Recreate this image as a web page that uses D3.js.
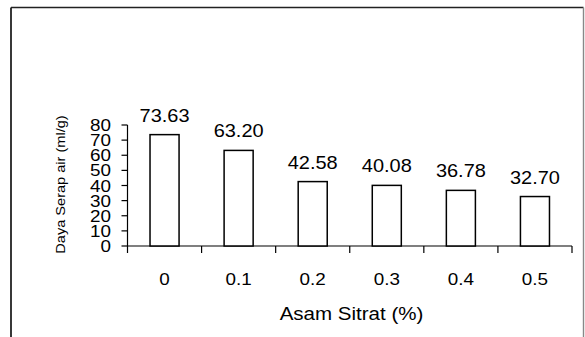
<!DOCTYPE html>
<html>
<head>
<meta charset="utf-8">
<script src="https://cdn.jsdelivr.net/npm/d3@7"></script>
<style>
  html, body { margin: 0; padding: 0; background: #fff; }
  svg { display: block; }
  text { font-family: "Liberation Sans", Arial, sans-serif; fill: #000; }
</style>
</head>
<body>
<script>
// Water absorption (ml/g) by citric acid concentration (%)
const categories = ["0", "0.1", "0.2", "0.3", "0.4", "0.5"];
const values = [73.63, 63.20, 42.58, 40.08, 36.78, 32.70];
const yTicks = [0, 10, 20, 30, 40, 50, 60, 70, 80];
const yTitle = "Daya Serap air  (ml/g)";
const xTitle = "Asam Sitrat (%)";

const W = 585, H = 337;
const SX = 1.11; // horizontal text stretch

const svg = d3.select("body").append("svg")
  .attr("width", W).attr("height", H);

// outer frame
svg.append("line").attr("x1", 11).attr("y1", 7.5).attr("x2", 583.5).attr("y2", 7.5)
  .attr("stroke", "#222").attr("stroke-width", 1.6);
svg.append("line").attr("x1", 11).attr("y1", 7.5).attr("x2", 11).attr("y2", H)
  .attr("stroke", "#222").attr("stroke-width", 1.8);
svg.append("line").attr("x1", 583.5).attr("y1", 7.5).attr("x2", 583.5).attr("y2", H)
  .attr("stroke", "#888").attr("stroke-width", 1.4);

const x = d3.scaleBand().domain(categories).range([127.5, 572])
  .paddingInner(0.608).paddingOuter(0.304);
const y = d3.scaleLinear().domain([0, 80]).range([246, 125]);

const axisColor = "#000";

// y axis line and ticks
svg.append("line").attr("x1", 127.5).attr("x2", 127.5)
  .attr("y1", y(80)).attr("y2", y(0) + 7)
  .attr("stroke", axisColor).attr("stroke-width", 1.2);
svg.selectAll(".ytick").data(yTicks).join("line")
  .attr("x1", 121.5).attr("x2", 127.5)
  .attr("y1", d => y(d)).attr("y2", d => y(d))
  .attr("stroke", axisColor).attr("stroke-width", 1.2);
svg.selectAll(".ylab").data(yTicks).join("text")
  .attr("text-anchor", "end")
  .attr("font-size", 17)
  .attr("transform", d => `translate(111,${y(d) + 6}) scale(${SX},1)`)
  .text(d => d);

// x axis line and boundary ticks
const x0 = x.range()[0], x1 = x.range()[1];
svg.append("line").attr("x1", x0).attr("x2", x1)
  .attr("y1", y(0)).attr("y2", y(0))
  .attr("stroke", axisColor).attr("stroke-width", 1.2);
const bounds = d3.range(categories.length + 1).map(i => x0 + i * x.step());
svg.selectAll(".xtick").data(bounds.slice(1)).join("line")
  .attr("x1", d => d).attr("x2", d => d)
  .attr("y1", y(0)).attr("y2", y(0) + 7)
  .attr("stroke", axisColor).attr("stroke-width", 1.2);
svg.selectAll(".xlab").data(categories).join("text")
  .attr("text-anchor", "middle")
  .attr("font-size", 17)
  .attr("transform", d => `translate(${x(d) + x.bandwidth() / 2},285) scale(${SX},1)`)
  .text(d => d);

// bars
svg.selectAll(".bar").data(values).join("rect")
  .attr("x", (d, i) => x(categories[i]))
  .attr("y", d => y(d))
  .attr("width", x.bandwidth())
  .attr("height", d => y(0) - y(d))
  .attr("fill", "#fff").attr("stroke", "#000").attr("stroke-width", 1.5);

// value labels
svg.selectAll(".val").data(values).join("text")
  .attr("text-anchor", "middle")
  .attr("font-size", 18)
  .attr("transform", (d, i) => `translate(${x(categories[i]) + x.bandwidth() / 2},${y(d) - 13}) scale(${SX},1)`)
  .text(d => d3.format(".2f")(d));

// axis titles
svg.append("text")
  .attr("text-anchor", "middle")
  .attr("font-size", 18.5)
  .attr("transform", `translate(351.5,320) scale(${SX},1)`)
  .text(xTitle);

svg.append("text")
  .attr("text-anchor", "middle")
  .attr("font-size", 13)
  .attr("transform", `translate(65,184.5) rotate(-90) scale(1.12,1)`)
  .text(yTitle);
</script>
</body>
</html>
